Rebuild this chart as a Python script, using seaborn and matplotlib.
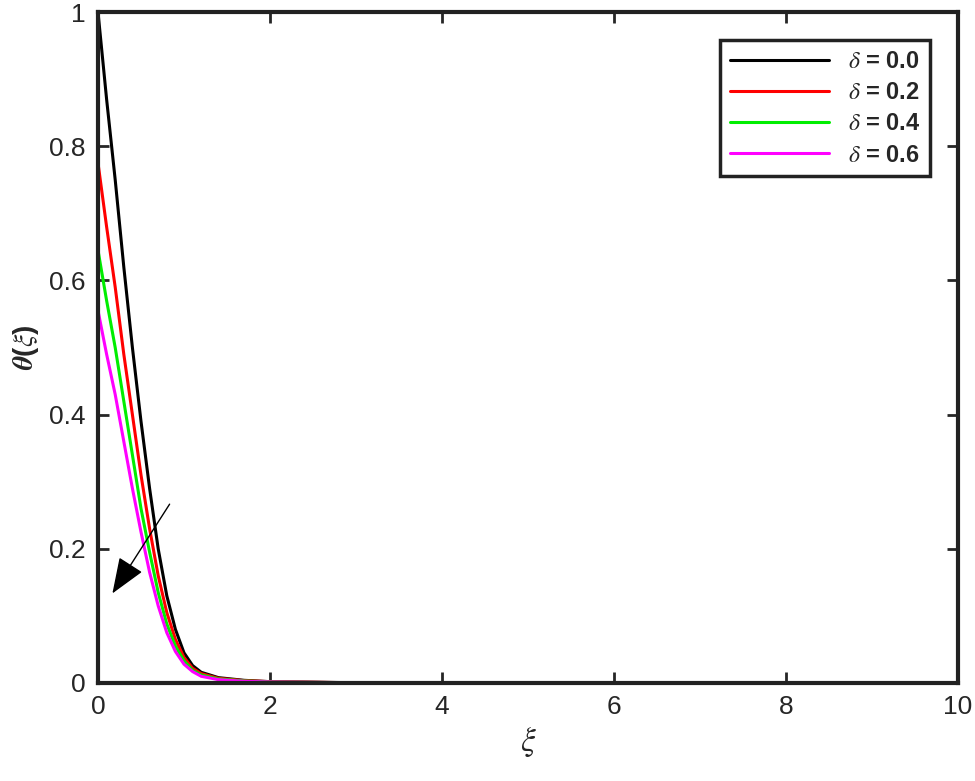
import numpy as np
import pandas as pd
import matplotlib
matplotlib.use("Agg")
import matplotlib.pyplot as plt
import seaborn as sns

xi = [0.0, 0.1, 0.2, 0.3, 0.4, 0.5, 0.6, 0.7, 0.8, 0.9, 1.0, 1.1, 1.2, 1.4, 1.7, 2.0, 3.0, 5.0, 10.0]
theta_00 = [1.0, 0.87, 0.75, 0.62, 0.50, 0.39, 0.29, 0.20, 0.13, 0.08, 0.045, 0.026, 0.016, 0.008, 0.004, 0.002, 0.0004, 0.0, 0.0]
theta_02 = [0.775, 0.68, 0.59, 0.49, 0.40, 0.31, 0.23, 0.16, 0.105, 0.065, 0.038, 0.022, 0.014, 0.007, 0.0035, 0.002, 0.0003, 0.0, 0.0]
theta_04 = [0.645, 0.57, 0.50, 0.42, 0.34, 0.26, 0.195, 0.135, 0.088, 0.055, 0.033, 0.019, 0.012, 0.006, 0.003, 0.0015, 0.0003, 0.0, 0.0]
theta_06 = [0.555, 0.49, 0.43, 0.36, 0.29, 0.225, 0.165, 0.115, 0.075, 0.047, 0.028, 0.017, 0.010, 0.005, 0.0025, 0.0015, 0.0003, 0.0, 0.0]
labels = [r"$\delta$ = 0.0", r"$\delta$ = 0.2", r"$\delta$ = 0.4", r"$\delta$ = 0.6"]
colors = ["black", "red", "#00ee00", "magenta"]

rows = []
for lab, ys in zip(labels, [theta_00, theta_02, theta_04, theta_06]):
    for x, y in zip(xi, ys):
        rows.append({"xi": x, "theta": y, "case": lab})
df = pd.DataFrame(rows)

sns.set_style("ticks")
plt.rcParams['font.family'] = ['Arial', 'Liberation Sans', 'DejaVu Sans']
plt.rcParams['mathtext.fontset'] = 'stix'

fig = plt.figure(figsize=(9.75, 7.81), dpi=100)
ax = fig.add_axes([98/975, 1 - 683/781, 860/975, 671/781])
sns.lineplot(data=df, x="xi", y="theta", hue="case", palette=colors, linewidth=2.2, ax=ax)

ax.set_xlim(0, 10)
ax.set_ylim(0, 1)
ax.set_xticks([0, 2, 4, 6, 8, 10])
ax.set_yticks([0, 0.2, 0.4, 0.6, 0.8, 1])
ax.set_yticklabels(["0", "0.2", "0.4", "0.6", "0.8", "1"])
ax.tick_params(direction="in", labelsize=19, width=2, length=8, top=True, right=True, pad=9)
for s in ax.spines.values():
    s.set_linewidth(3)
    s.set_color("#222222")
ax.set_xlabel(r"$\xi$", fontsize=24, labelpad=4)
ax.set_ylabel(r"$\boldsymbol{\theta}$($\xi$)", fontsize=20, fontweight="bold", labelpad=6)

ax.annotate("", xy=(0.15, 0.13), xytext=(0.85, 0.27),
            arrowprops=dict(arrowstyle="-|>,head_length=0.9,head_width=0.35",
                            color="black", lw=1, mutation_scale=25))

leg = ax.legend(loc="upper right", fontsize=17, frameon=True, fancybox=False,
                edgecolor="#222222", borderaxespad=1.2, handlelength=4.2,
                labelspacing=0.35, borderpad=0.4, framealpha=1)
leg.get_frame().set_linewidth(2.5)
for t in leg.get_texts():
    t.set_fontweight("bold")

fig.savefig("out.png", dpi=100)
